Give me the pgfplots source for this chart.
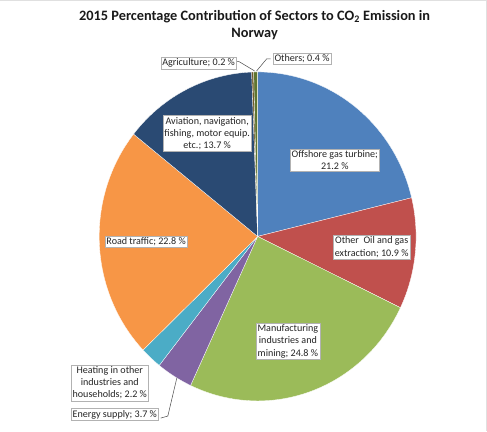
\documentclass[border=0pt]{standalone}
\usepackage{pgfplots}
\pgfplotsset{compat=1.18}
\usepackage{fontspec}
\setmainfont{Carlito}
\definecolor{cBlue}{HTML}{4F81BD}
\definecolor{cRed}{HTML}{C0504D}
\definecolor{cGreen}{HTML}{9BBB59}
\definecolor{cPurple}{HTML}{8064A2}
\definecolor{cCyan}{HTML}{4BACC6}
\definecolor{cOrange}{HTML}{F79646}
\definecolor{cNavy}{HTML}{2A4A73}
\definecolor{cDRed}{HTML}{6E5A2A}
\definecolor{cDGreen}{HTML}{5F7530}
\definecolor{txt}{HTML}{262626}
\tikzset{lbl/.style={fill=white, draw=black!30, line width=0.4pt, inner sep=1.5pt,
    align=center, text=txt, font=\fontsize{10}{12.2}\selectfont}}
% pie geometry (axis units = pixels)
\def\cx{255}\def\cy{193}\def\rx{157}\def\ry{163}
\def\k{3.6036} % 360 / 99.9 (sum of shares)
% \slice{cumulative share before}{share}{colour}
\newcommand\slice[3]{%
  \addplot[fill=#3, draw=white, line width=0.3pt, variable=\t,
    domain={90-\k*(#1+#2)}:{90-\k*(#1)}, samples=80]
    ({\cx+\rx*cos(\t)},{\cy+\ry*sin(\t)}) -- (axis cs:\cx,\cy) -- cycle;}
\begin{document}
\begin{tikzpicture}
\begin{axis}[scale only axis, width=487pt, height=430pt,
  xmin=0, xmax=487, ymin=0, ymax=430, axis lines=none, clip=false]
% faint chart frame
\draw[black!12, line width=0.6pt] (axis cs:0,427) -- (axis cs:482,427) -- (axis cs:482,0);
% slices: shares in percent, clockwise from 12 o'clock
\slice{0}{21.2}{cBlue}    % Offshore gas turbine
\slice{21.2}{10.9}{cRed}  % Other oil and gas extraction
\slice{32.1}{24.8}{cGreen}% Manufacturing industries and mining
\slice{56.9}{3.7}{cPurple}% Energy supply
\slice{60.6}{2.2}{cCyan}  % Heating
\slice{62.8}{22.8}{cOrange}% Road traffic
\slice{85.6}{13.7}{cNavy} % Aviation etc.
\slice{99.3}{0.2}{cDRed}  % Agriculture
\slice{99.5}{0.4}{cDGreen}% Others
% title
\node[font=\bfseries\fontsize{14.2}{17}\selectfont, text=black!90] at (axis cs:252,411)
  {2015 Percentage Contribution of Sectors to CO\textsubscript{2} Emission in};
\node[font=\bfseries\fontsize{14.2}{17}\selectfont, text=black!90] at (axis cs:252,394) {Norway};
% leader lines
\draw[black!70, line width=0.5pt] (axis cs:233,367) -- (axis cs:237,366) -- (axis cs:252,357);
\draw[black!70, line width=0.5pt] (axis cs:268,369) -- (axis cs:264,369) -- (axis cs:254,357);
\draw[black!70, line width=0.5pt] (axis cs:159,13) -- (axis cs:166,15) -- (axis cs:175,53);
% labels
\node[lbl] at (axis cs:196.5,365) {Agriculture; 0.2 \%};
\node[lbl] at (axis cs:299,369) {Others; 0.4 \%};
\node[lbl] at (axis cs:205,295) {Aviation, navigation,\\fishing, motor equip.\\etc.; 13.7 \%};
\node[lbl] at (axis cs:331.5,268.5) {Offshore gas turbine;\\21.2 \%};
\node[lbl] at (axis cs:368,182.5) {Other\ \ Oil and gas\\extraction; 10.9 \%};
\node[lbl] at (axis cs:285,89) {Manufacturing\\industries and\\mining; 24.8 \%};
\node[lbl] at (axis cs:144.5,188) {Road traffic; 22.8 \%};
\node[lbl] at (axis cs:108.5,48) {Heating in other\\industries and\\households; 2.2 \%};
\node[lbl] at (axis cs:113.5,16.5) {Energy supply; 3.7 \%};
\end{axis}
\end{tikzpicture}
\end{document}
